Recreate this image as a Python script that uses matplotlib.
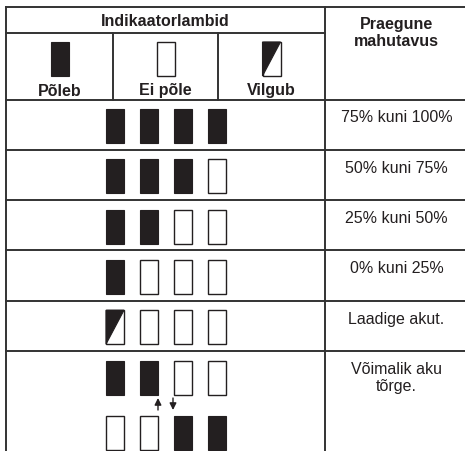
import matplotlib.pyplot as plt
from matplotlib.patches import Rectangle, Polygon

plt.rcParams['font.family'] = ['Liberation Sans', 'DejaVu Sans']

# --- data ---
header_title = "Indikaatorlambid"
capacity_title = "Praegune\nmahutavus"
legend_labels = ["Põleb", "Ei põle", "Vilgub"]
legend_states = ["on", "off", "blink"]

capacity_labels = ["75% kuni 100%", "50% kuni 75%", "25% kuni 50%",
                   "0% kuni 25%", "Laadige akut.", "Võimalik aku\ntõrge."]
lamp_states = [
    ["on", "on", "on", "on"],
    ["on", "on", "on", "off"],
    ["on", "on", "off", "off"],
    ["on", "off", "off", "off"],
    ["blink", "off", "off", "off"],
    ["on", "on", "off", "off"],
]
# alternating pattern for the last row (battery fault)
fault_alt_states = ["off", "off", "on", "on"]

# --- layout (pixels) ---
W, H = 465, 451
LEFT, MID, RIGHT = 6, 325, 472
TOP, HSPLIT, HBOT = 7, 33, 99.5
ROW_H = 50.3
LEG_DIV = [113, 218]
LAMP_W, LAMP_H = 18, 34
LAMP_X0, LAMP_DX = 106, 34
LINE_C = '#333333'
FILL_C = '#231f20'
FS = 11.5


def draw_lamp(ax, x, y, state):
    if state == "on":
        ax.add_patch(Rectangle((x, y), LAMP_W, LAMP_H, facecolor=FILL_C,
                               edgecolor=FILL_C, lw=0.8))
    elif state == "off":
        ax.add_patch(Rectangle((x, y), LAMP_W, LAMP_H, facecolor='white',
                               edgecolor=FILL_C, lw=1.0))
    else:
        ax.add_patch(Rectangle((x, y), LAMP_W, LAMP_H, facecolor='white',
                               edgecolor=FILL_C, lw=1.0))
        ax.add_patch(Polygon([(x, y), (x + LAMP_W, y), (x, y + LAMP_H)],
                             closed=True, facecolor=FILL_C, edgecolor=FILL_C, lw=0.8))


fig = plt.figure(figsize=(W / 100, H / 100), dpi=100)
ax = fig.add_axes([0, 0, 1, 1])
ax.set_xlim(0, W)
ax.set_ylim(H, 0)
ax.axis('off')

# table grid
lw = 1.4
ax.plot([LEFT, RIGHT], [TOP, TOP], color=LINE_C, lw=lw)
ax.plot([LEFT, MID], [HSPLIT, HSPLIT], color=LINE_C, lw=lw)
ax.plot([LEFT, LEFT], [TOP, H + 5], color=LINE_C, lw=lw)
ax.plot([MID, MID], [TOP, H + 5], color=LINE_C, lw=lw)
for xd in LEG_DIV:
    ax.plot([xd, xd], [HSPLIT, HBOT], color=LINE_C, lw=lw)
n_rows = len(capacity_labels)
for i in range(n_rows):
    yl = HBOT + i * ROW_H
    ax.plot([LEFT, RIGHT], [yl, yl], color=LINE_C, lw=lw)

# header text
ax.text((LEFT + MID) / 2, 22, header_title, ha='center', va='center',
        fontsize=FS, fontweight='bold', color='#231f20')
ax.text((MID + RIGHT) / 2 - 2, 16.5, capacity_title, ha='center', va='top',
        fontsize=FS, fontweight='bold', color='#231f20', linespacing=1.2)

# legend icons
leg_bounds = [LEFT] + LEG_DIV + [MID]
for j, (lab, st) in enumerate(zip(legend_labels, legend_states)):
    cx = (leg_bounds[j] + leg_bounds[j + 1]) / 2
    draw_lamp(ax, cx - LAMP_W / 2, 42, st)
    ax.text(cx, 91, lab, ha='center', va='center', fontsize=FS,
            fontweight='bold', color='#231f20')

# rows
for i, (states, label) in enumerate(zip(lamp_states, capacity_labels)):
    ytop = HBOT + i * ROW_H
    for k, st in enumerate(states):
        draw_lamp(ax, LAMP_X0 + k * LAMP_DX, ytop + 9.5, st)
    ax.text((MID + RIGHT) / 2 - 2, ytop + 11, label, ha='center', va='top',
            fontsize=FS, color='#231f20', linespacing=1.2)

# alternate pattern for the fault row
ytop = HBOT + (n_rows - 1) * ROW_H
for k, st in enumerate(fault_alt_states):
    draw_lamp(ax, LAMP_X0 + k * LAMP_DX, ytop + 65, st)
up_x = LAMP_X0 + LAMP_DX + LAMP_W
dn_x = LAMP_X0 + 2 * LAMP_DX - 1
arrow_kw = dict(arrowstyle='-|>,head_length=0.5,head_width=0.25', color=FILL_C,
                lw=1.0, shrinkA=0, shrinkB=0, mutation_scale=8)
ax.annotate('', xy=(up_x, ytop + 47), xytext=(up_x, ytop + 59), arrowprops=arrow_kw)
ax.annotate('', xy=(dn_x, ytop + 59), xytext=(dn_x, ytop + 47), arrowprops=arrow_kw)

fig.savefig('out.png', dpi=100)
